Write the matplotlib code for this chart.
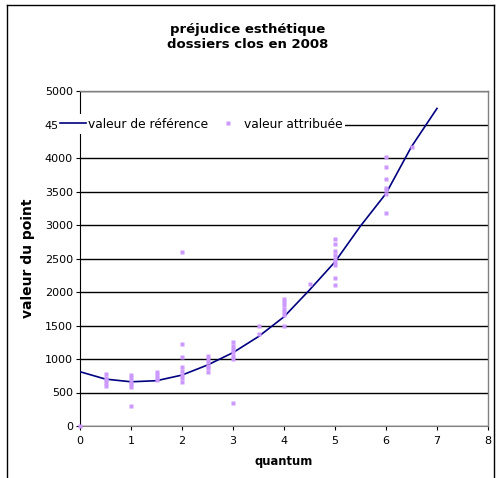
import matplotlib
matplotlib.use("Agg")
import matplotlib.pyplot as plt
from matplotlib.lines import Line2D

plt.rcParams['font.family'] = ['DejaVu Sans']

# reference curve
ref_quantum = [0, 0.5, 1, 1.5, 2, 2.5, 3, 3.5, 4, 4.5, 5, 5.5, 6, 6.5, 7]
ref_value = [810, 700, 660, 676, 760, 910, 1095, 1335, 1630, 2030, 2450, 2985, 3470, 4170, 4740]

# individual awarded values per quantum
att_quantum = (
    [0]
    + [0.5] * 5
    + [1] * 6
    + [1.5] * 4
    + [2] * 8
    + [2.5] * 6
    + [3] * 7
    + [3.5] * 2
    + [4] * 7
    + [4.5]
    + [5] * 9
    + [6] * 7
    + [6.5]
)
att_value = (
    [0]
    + [590, 640, 680, 720, 770]
    + [300, 580, 620, 660, 710, 760]
    + [680, 720, 760, 810]
    + [660, 710, 760, 820, 880, 1030, 1220, 2600]
    + [810, 860, 900, 950, 1000, 1045]
    + [340, 1000, 1050, 1100, 1150, 1200, 1250]
    + [1380, 1500]
    + [1500, 1660, 1700, 1750, 1800, 1850, 1890]
    + [2120]
    + [2100, 2210, 2400, 2450, 2500, 2550, 2610, 2710, 2790]
    + [3180, 3470, 3520, 3550, 3690, 3860, 4010]
    + [4170]
)

x_ticks = list(range(0, 9))
y_ticks = list(range(0, 5001, 500))

W, H = 496, 478
fig = plt.figure(figsize=(W / 100, H / 100), dpi=100)

# outer chart frame
frame_kw = dict(color='black', lw=1.0, transform=fig.transFigure, clip_on=False)
fig.add_artist(Line2D([7 / W, 7 / W], [0, 1 - 5 / H], **frame_kw))
fig.add_artist(Line2D([7 / W, 494 / W], [1 - 5 / H, 1 - 5 / H], **frame_kw))
fig.add_artist(Line2D([494 / W, 494 / W], [0, 1 - 5 / H], **frame_kw))

ax = fig.add_axes([80 / W, 1 - 426 / H, 408 / W, 335 / H])

ax.set_xlim(0, 8)
ax.set_ylim(0, 5000)
ax.set_xticks(x_ticks)
ax.set_yticks(y_ticks)
ax.tick_params(axis='both', labelsize=8, length=3, width=0.8, pad=2, colors='black')
ax.tick_params(axis='x', pad=4)

ax.yaxis.grid(True, color='black', lw=1.0)
ax.set_axisbelow(True)

for side in ('top', 'right'):
    ax.spines[side].set_color('#808080')
    ax.spines[side].set_linewidth(1.0)
ax.spines['bottom'].set_color('#808080')
ax.spines['left'].set_color('black')

ax.plot(ref_quantum, ref_value, color='#000080', lw=1.2, label='valeur de référence', zorder=3)
ax.plot(att_quantum, att_value, ls='none', marker='s', ms=3, mec='none', mfc='#CC99FF',
        label='valeur attribuée', zorder=4, clip_on=False)

ax.set_xlabel('quantum', fontsize=8.3, fontweight='bold', labelpad=7)
ax.set_ylabel('valeur du point', fontsize=10, fontweight='bold', labelpad=7)

fig.text(0.5, 1 - 37 / H, 'préjudice esthétique\ndossiers clos en 2008', ha='center', va='center',
         fontsize=9.5, fontweight='bold', linespacing=1.1)

leg = ax.legend(loc='center left', bbox_to_anchor=(57 / W, 1 - 124 / H), bbox_transform=fig.transFigure,
                ncol=2, fontsize=8.8, frameon=True, fancybox=False, framealpha=1,
                facecolor='white', edgecolor='none', borderpad=0.25, handlelength=2.1,
                handletextpad=0.2, columnspacing=0.6, borderaxespad=0)

fig.savefig('out.png', dpi=100)
